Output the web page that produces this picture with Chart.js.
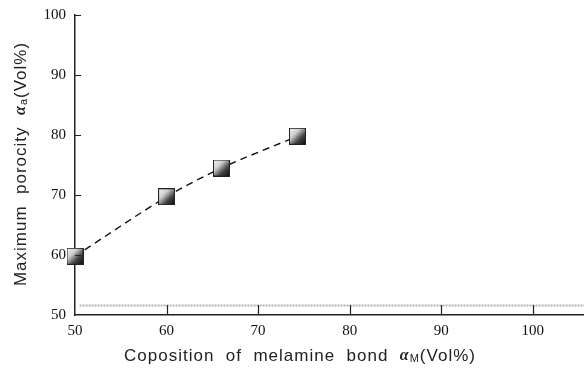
<!DOCTYPE html>
<html lang="en">
<head>
<meta charset="utf-8"/>
<title>Maximum porosity vs melamine bond</title>
<script src="https://cdn.jsdelivr.net/npm/chart.js"></script>
<style>
  html, body { margin: 0; padding: 0; background: #fff; }
  #wrap { width: 584px; height: 376px; position: relative; }
</style>
</head>
<body>
<div id="wrap"><canvas id="chart" width="584" height="376"></canvas></div>
<script>
// data
const bondVol = [50, 60, 66, 74.3];          // composition of melamine bond (Vol%)
const porosity = [59.8, 69.7, 74.5, 79.8];   // maximum porosity (Vol%)
const baseX = [50.5, 105.6];                 // faint grey line near the bottom
const baseY = [51.6, 51.6];
const xTicks = [50, 60, 70, 80, 90, 100];
const yTicks = [50, 60, 70, 80, 90, 100];

// shaded square marker
function makeMarker(size) {
  const c = document.createElement('canvas');
  c.width = size; c.height = size;
  const g = c.getContext('2d');
  const grad = g.createLinearGradient(0, 0, size, size);
  grad.addColorStop(0, '#f6f6f6');
  grad.addColorStop(0.35, '#cfcfcf');
  grad.addColorStop(0.65, '#444');
  grad.addColorStop(1, '#050505');
  g.fillStyle = grad;
  g.fillRect(0, 0, size, size);
  g.strokeStyle = '#222';
  g.lineWidth = 1;
  g.strokeRect(0.5, 0.5, size - 1, size - 1);
  return c;
}
const marker = makeMarker(17);

// inward tick marks
const innerTicks = {
  id: 'innerTicks',
  afterDraw(chart) {
    const ctx = chart.ctx, a = chart.chartArea;
    const xs = chart.scales.x, ys = chart.scales.y;
    ctx.save();
    ctx.strokeStyle = '#222';
    ctx.lineWidth = 1.2;
    ctx.beginPath();
    xs.ticks.forEach(t => {
      const px = Math.round(xs.getPixelForValue(t.value)) + 0.5;
      if (t.value === xs.min) return;
      ctx.moveTo(px, a.bottom); ctx.lineTo(px, a.bottom - 10);
    });
    ys.ticks.forEach(t => {
      const py = Math.round(ys.getPixelForValue(t.value)) + 0.5;
      if (t.value === ys.min) return;
      ctx.moveTo(a.left, py); ctx.lineTo(a.left + 6, py);
    });
    ctx.stroke();
    ctx.restore();
  }
};

// axis titles with subscripts
function drawRich(ctx, parts, x, y) {
  // parts: [text, font, dy]
  let w = 0;
  parts.forEach(p => { ctx.font = p[1]; w += ctx.measureText(p[0]).width; });
  let cx = x - w / 2;
  parts.forEach(p => {
    ctx.font = p[1];
    ctx.fillText(p[0], cx, y + (p[2] || 0));
    cx += ctx.measureText(p[0]).width;
  });
}
const axisTitles = {
  id: 'axisTitles',
  afterDraw(chart) {
    const ctx = chart.ctx;
    ctx.save();
    ctx.fillStyle = '#222';
    ctx.textBaseline = 'middle';
    ctx.textAlign = 'left';
    ctx.letterSpacing = '1px';
    const sans = '17px "Liberation Sans", Arial, sans-serif';
    const alpha = 'bold italic 16px "Liberation Serif", serif';
    const sub = '11px "Liberation Sans", Arial, sans-serif';
    drawRich(ctx, [
      ['Coposition  of  melamine  bond  ', sans],
      ['\u03b1', alpha],
      ['M', sub, 3],
      ['(Vol%)', sans]
    ], 300, 356);
    ctx.translate(21, 164);
    ctx.rotate(-Math.PI / 2);
    drawRich(ctx, [
      ['Maximum  porocity  ', sans],
      ['\u03b1', alpha],
      ['a', sub, 3],
      ['(Vol%)', sans]
    ], 0, 0);
    ctx.restore();
  }
};

const tickFont = { family: '"Liberation Serif", "Times New Roman", serif', size: 15 };

new Chart(document.getElementById('chart'), {
  type: 'scatter',
  data: {
    datasets: [
      {
        data: baseX.map((x, i) => ({ x: x, y: baseY[i] })),
        showLine: true,
        borderColor: '#b4b4b4',
        borderWidth: 2,
        borderDash: [2, 1],
        pointRadius: 0,
        clip: false,
        order: 2
      },
      {
        data: bondVol.map((x, i) => ({ x: x, y: porosity[i] })),
        showLine: true,
        tension: 0.3,
        borderColor: '#111',
        borderWidth: 1.4,
        borderDash: [7, 5],
        pointStyle: marker,
        pointRadius: 9,
        clip: false,
        order: 1
      }
    ]
  },
  options: {
    responsive: false,
    animation: false,
    events: [],
    layout: { autoPadding: false, padding: { top: 15, right: 0, left: 0, bottom: 0 } },
    plugins: { legend: { display: false }, tooltip: { enabled: false } },
    scales: {
      x: {
        type: 'linear',
        min: 50,
        max: 105.6,
        afterBuildTicks: s => { s.ticks = xTicks.map(v => ({ value: v })); },
        afterFit: s => { s.height = 61; s.paddingRight = 0; s.paddingLeft = 0; },
        grid: { drawOnChartArea: false, drawTicks: false },
        border: { color: '#222', width: 1.5 },
        ticks: { color: '#111', font: tickFont, padding: 7 }
      },
      y: {
        type: 'linear',
        min: 50,
        max: 100,
        afterBuildTicks: s => { s.ticks = yTicks.map(v => ({ value: v })); },
        afterFit: s => { s.width = 75; s.paddingTop = 0; s.paddingBottom = 0; },
        grid: { drawOnChartArea: false, drawTicks: false },
        border: { color: '#222', width: 1.5 },
        ticks: { color: '#111', font: tickFont, padding: 9 }
      }
    }
  },
  plugins: [innerTicks, axisTitles]
});
</script>
</body>
</html>
